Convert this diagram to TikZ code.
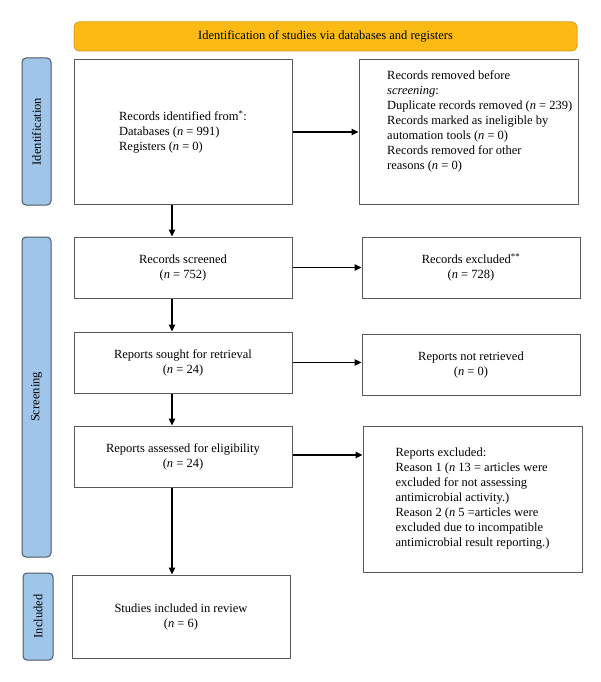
\documentclass[tikz,border=0pt]{standalone}
\usepackage{fontspec}
\setmainfont{Liberation Serif}
\usetikzlibrary{arrows.meta}
\definecolor{ybar}{HTML}{FBBB14}
\definecolor{ybord}{HTML}{E2A21E}
\definecolor{bbar}{HTML}{9FC5E8}
\definecolor{bbord}{HTML}{4A5866}
\definecolor{boxbord}{HTML}{5A5A5A}
\begin{document}
\begin{tikzpicture}[x=1pt,y=-1pt,
  every node/.style={font=\fontsize{12.5}{15}\selectfont},
  flowbox/.style={draw=boxbord,line width=1pt,fill=white,minimum width=218pt,inner sep=0pt,align=center},
  sidebar/.style={draw=bbord,line width=1pt,fill=bbar,rounded corners=4pt,minimum height=29pt,inner sep=0pt,rotate=90},
  arr/.style={line width=1.3pt,-{Triangle[length=7pt,width=6.5pt]}}]
\useasboundingbox (0,0) rectangle (600,682);
\fill[white] (0,0) rectangle (600,682);
% header
\node[draw=ybord,line width=1pt,fill=ybar,rounded corners=5pt,minimum width=503pt,minimum height=29pt,inner sep=0pt,font=\fontsize{12.5}{15}\selectfont] (hdr) at (325.5,36.5) {Identification of studies via databases and registers};
% side bars
\node[sidebar,minimum width=147pt] (idbar) at (36.5,131.5) {Identification};
\node[sidebar,minimum width=320pt] (scbar) at (36.5,397) {Screening};
\node[sidebar,minimum width=87pt,minimum height=30pt] (inbar) at (38,616.5) {Included};
% left column
\node[flowbox,minimum height=144pt] (b1) at (183,132) {};
\node[align=left,inner sep=0pt] (b1t) at (183,132) {Records identified from\textsuperscript{*}:\\Databases (\textit{n} = 991)\\Registers (\textit{n} = 0)};
\node[flowbox,minimum height=61pt] (s1) at (183,267.5) {Records screened\\(\textit{n} = 752)};
\node[flowbox,minimum height=61pt] (s2) at (183,362.5) {Reports sought for retrieval\\(\textit{n} = 24)};
\node[flowbox,minimum height=61pt] (s3) at (183,456.5) {Reports assessed for eligibility\\(\textit{n} = 24)};
\node[flowbox,minimum height=83pt] (i1) at (181,616.5) {Studies included in review\\(\textit{n} = 6)};
% right column
\node[flowbox,minimum width=219pt,minimum height=144pt] (r1) at (468.5,132) {};
\node[align=left,inner sep=0pt,anchor=north west] (r1t) at (387,70) {Records removed before\\\textit{screening}:\\Duplicate records removed (\textit{n} = 239)\\Records marked as ineligible by\\automation tools (\textit{n} = 0)\\Records removed for other\\reasons (\textit{n} = 0)};
\node[flowbox,minimum height=61pt] (e1) at (471,267.5) {Records excluded\textsuperscript{**}\\(\textit{n} = 728)};
\node[flowbox,minimum height=61pt] (e2) at (471,364.5) {Reports not retrieved\\(\textit{n} = 0)};
\node[flowbox,minimum width=219pt,minimum height=146pt,align=left] (e3) at (472.5,499) {Reports excluded:\\Reason 1 (\textit{n} 13 = articles were\\excluded for not assessing\\antimicrobial activity.)\\Reason 2 (\textit{n} 5 =articles were\\excluded due to incompatible\\antimicrobial result reporting.)};
% connectors
\draw[arr] (b1.east) -- (r1.west);
\draw[arr] (s1.east) -- (e1.west);
\draw[arr] (s2.east) -- (s2.east -| e2.west);
\draw[arr] ([yshift=1.5pt]s3.east) -- ([yshift=1.5pt]s3.east -| e3.west);
\draw[arr] ([xshift=-11pt]b1.south) -- ([xshift=-11pt]s1.north);
\draw[arr] ([xshift=-11pt]s1.south) -- ([xshift=-11pt]s2.north);
\draw[arr] ([xshift=-11pt]s2.south) -- ([xshift=-11pt]s3.north);
\draw[arr] ([xshift=-11pt]s3.south) -- ([xshift=-9pt]i1.north);
\end{tikzpicture}
\end{document}
